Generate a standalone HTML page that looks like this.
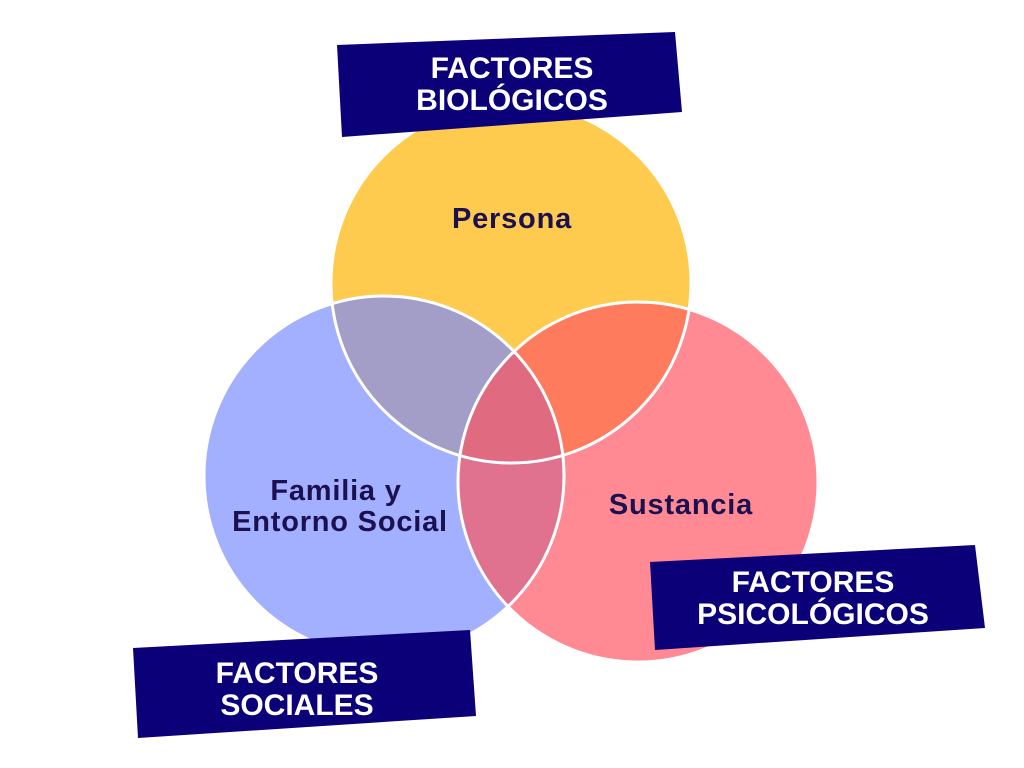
<!DOCTYPE html>
<html><head><meta charset="utf-8"><style>
html,body{margin:0;padding:0;background:#fff;}
svg{display:block;}
text{font-family:"Liberation Sans",sans-serif;font-weight:bold;}
</style></head><body>
<svg width="1024" height="768" viewBox="0 0 1024 768" xmlns="http://www.w3.org/2000/svg">
<defs>
<clipPath id="cA"><circle cx="511" cy="283" r="180"/></clipPath>
<clipPath id="cB"><circle cx="384" cy="476" r="180"/></clipPath>
<clipPath id="cC"><circle cx="638" cy="482" r="180"/></clipPath>
</defs>
<circle cx="511" cy="283" r="180" fill="#FFCB4F"/>
<circle cx="384" cy="476" r="180" fill="#A3AFFF"/>
<circle cx="638" cy="482" r="180" fill="#FF8A94"/>
<g clip-path="url(#cA)"><circle cx="384" cy="476" r="180" fill="#A29EC8"/><circle cx="638" cy="482" r="180" fill="#FF7B5E"/></g>
<g clip-path="url(#cB)"><circle cx="638" cy="482" r="180" fill="#E0718F"/></g>
<g clip-path="url(#cA)"><g clip-path="url(#cB)"><circle cx="638" cy="482" r="180" fill="#E06A80"/></g></g>
<g fill="none" stroke="#fff" stroke-width="3">
<circle cx="511" cy="283" r="180"/><circle cx="384" cy="476" r="180"/><circle cx="638" cy="482" r="180"/>
</g>
<g fill="#1B1150" font-size="29" text-anchor="middle" letter-spacing="0.8">
<text x="512" y="228">Persona</text>
<text x="336" y="500">Familia y</text>
<text x="340" y="531">Entorno Social</text>
<text x="681" y="514">Sustancia</text>
</g>
<polygon points="337,45 675,32 682,112 342,137" fill="#0B0078"/>
<polygon points="650,562 975,545 985,628 655,650" fill="#0B0078"/>
<polygon points="133,648 470,630 476,716 138,738" fill="#0B0078"/>
<g fill="#fff" font-size="30" text-anchor="middle">
<text x="512" y="78">FACTORES</text>
<text x="512" y="110">BIOLÓGICOS</text>
<text x="813" y="592">FACTORES</text>
<text x="813" y="624">PSICOLÓGICOS</text>
<text x="297" y="683">FACTORES</text>
<text x="297" y="715">SOCIALES</text>
</g>
</svg>
</body></html>
